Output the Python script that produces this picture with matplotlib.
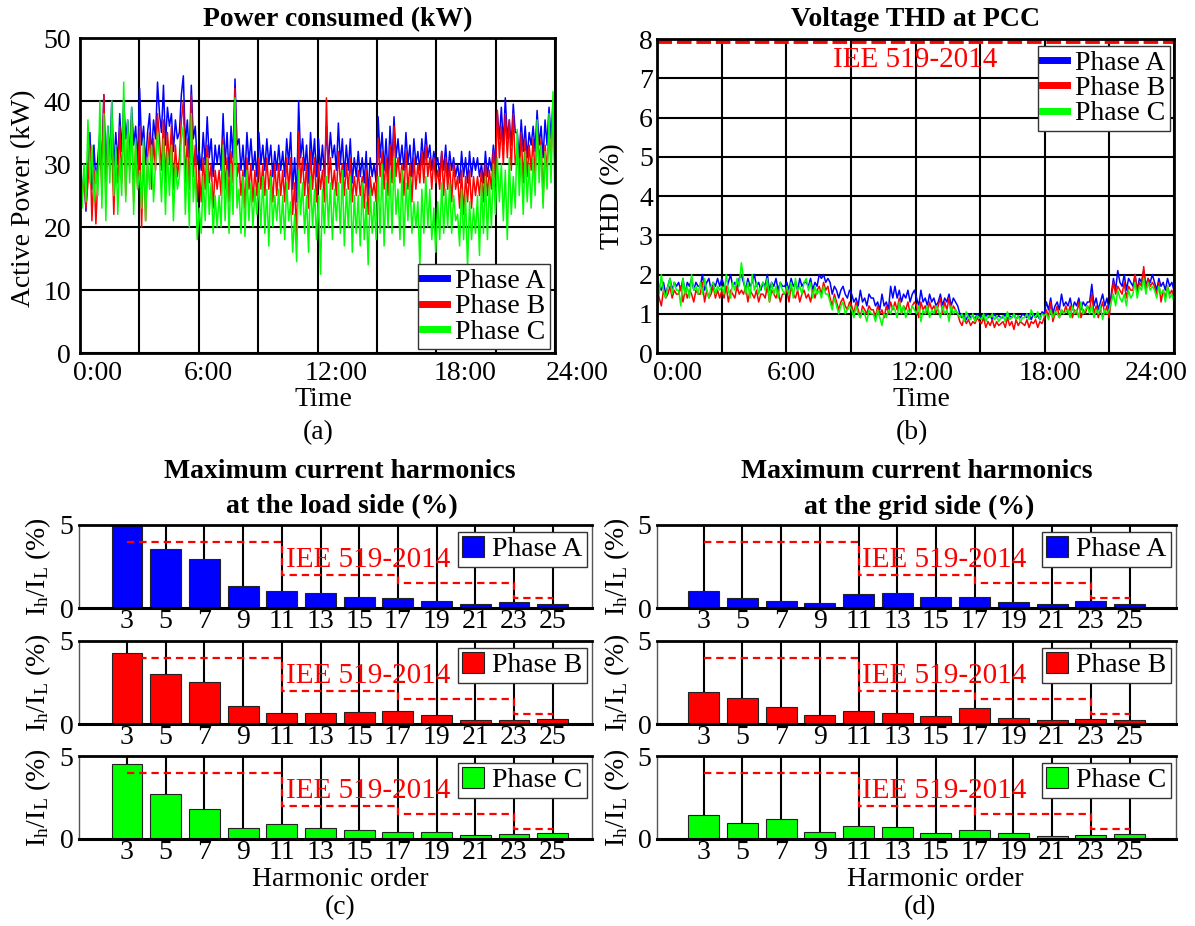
import numpy as np
import matplotlib.pyplot as plt

plt.rcParams['font.family'] = ['Liberation Serif', 'DejaVu Serif']
plt.rcParams['mathtext.fontset'] = 'custom'
plt.rcParams['mathtext.rm'] = 'Liberation Serif'
plt.rcParams['mathtext.it'] = 'Liberation Serif:italic'
plt.rcParams['font.size'] = 20

# ---- data ----
phases = ['Phase A', 'Phase B', 'Phase C']
colors = ['#0000ff', '#ff0000', '#00ff00']

# power consumed (kW), 10 samples per 1/24 of the plotted span
power_a = [31, 24, 29, 22.5, 30, 35, 26, 33, 27, 31,
           35, 30, 41, 28, 36, 31, 40, 29, 35, 30,
           38, 32, 40, 34, 37, 31, 39, 33, 36, 30,
           42, 33, 36, 30, 35, 38, 31, 37, 34, 43,
           38, 35, 42.5, 33, 39, 36, 38, 32, 37, 34,
           35, 41, 44, 33, 37, 31, 42.5, 34, 36, 30,
           32, 29, 35, 30, 37.5, 31, 34, 28, 33, 30,
           33, 29, 38, 30, 35, 28, 36, 31, 43.5, 33,
           34, 29, 33, 28, 35, 30, 34, 29, 32, 28,
           35, 30, 33, 29, 34, 30, 33, 28, 32, 29,
           33, 29, 32, 28, 34, 30, 35, 26, 31, 24,
           40, 31, 34, 29, 33, 27, 35, 30, 34, 28,
           34, 29, 33, 28, 36, 30, 35, 31, 33, 29,
           36.5, 30, 34, 28, 33, 29, 34, 27, 31, 28,
           32, 28, 31, 27, 32, 25, 31, 28, 30, 27,
           37.5, 31, 35, 29, 34, 28, 36, 30, 37.5, 31,
           34, 30, 33, 29, 35, 30, 33, 28, 34, 30,
           32, 29, 34, 30, 35, 31, 33, 29, 32, 30,
           31, 28, 32, 29, 33, 28, 32, 29, 31, 28,
           30, 27, 32, 28, 31, 27, 32, 28, 31, 29,
           31, 28, 30, 27, 32, 28, 31, 29, 33, 30,
           38, 34, 39, 33, 40.5, 34, 37, 33, 39.5, 35,
           35, 31, 37, 32, 36, 31, 35, 33, 36, 32,
           38.5, 33, 36, 31, 37, 33, 39, 34, 40, 31]
power_b = [30, 25, 28, 23, 27, 33, 21, 29, 20.5, 28,
           33, 26, 41, 24, 35, 29, 34, 22, 31, 27,
           36, 27, 38, 25, 35, 29, 37, 24, 33, 26,
           36, 20, 33, 21, 31, 35, 26, 34, 29, 38,
           34, 29, 37, 27, 35, 30, 36, 26, 33, 28,
           31, 37, 40, 27, 34, 26, 41, 28, 33, 24,
           29, 24, 31, 26, 33, 27, 30, 23, 29, 26,
           29, 25, 34, 26, 31, 24, 32, 27, 42, 28,
           30, 25, 29, 23, 31, 26, 30, 24, 29, 25,
           31, 26, 30, 25, 31, 26, 29, 24, 30, 25,
           30, 25, 29, 24, 31, 26, 31, 22, 27, 18,
           35, 27, 31, 25, 30, 23, 32, 26, 31, 24,
           30, 26, 29, 24, 40.5, 27, 31, 26, 29, 25,
           32, 27, 30, 25, 30, 26, 31, 24, 28, 25,
           29, 25, 28, 23, 29, 22, 28, 25, 27, 24,
           34, 28, 32, 26, 31, 25, 33, 27, 36, 28,
           31, 27, 30, 25, 32, 26, 30, 24, 31, 26,
           30, 27, 32, 27, 33, 28, 31, 26, 31, 27,
           29, 26, 32, 25, 31, 26, 30, 24, 30, 26,
           28, 23, 29, 22, 28, 24, 29, 23, 28, 25,
           28, 25, 29, 24, 30, 25, 29, 26, 32, 27,
           38.5, 31, 36, 30, 38, 31, 37, 29, 38, 30,
           32, 28, 35, 27, 34, 28, 33, 29, 34, 28,
           36, 30, 34, 24, 33, 29, 36, 30, 39, 29]
power_c = [26, 23, 30, 24, 37, 27, 33, 24, 29, 25,
           40, 23, 38, 21, 36, 27, 40, 25, 33, 22,
           31, 25, 43, 24, 37, 27, 39, 22, 34, 26,
           29, 23, 34, 21, 31, 26, 33, 24, 30, 35,
           31, 24, 34, 22, 32, 25, 33, 21, 30, 26,
           28, 34, 36, 22, 31, 20, 38, 24, 29, 18,
           23, 19, 28, 21, 31, 22, 27, 19, 25, 20,
           25, 20, 33, 21, 29, 19, 30, 22, 40.5, 23,
           26, 19, 28, 18.5, 29, 21, 27, 20, 26, 22,
           27, 20, 28, 19, 26, 17, 28, 20, 25, 21,
           26, 19, 25, 18, 27, 21, 24, 16, 22, 14.5,
           29, 22, 27, 19, 25, 16, 28, 20, 26, 18,
           25, 12.5, 26, 19, 28, 20, 27, 18, 26, 21,
           27, 19, 29, 17, 26, 20, 28, 16, 25, 19,
           25, 17, 27, 18, 24, 14, 26, 19, 24, 18,
           28, 19, 30, 17, 27, 20, 29, 19, 31, 22,
           26, 18, 29, 17, 27, 21, 28, 19, 24, 20,
           24, 13.5, 26, 19, 28, 20, 26, 18, 23, 16,
           24, 18, 27, 19, 26, 20, 27, 19, 25, 21,
           22, 17, 26, 18, 25, 13.5, 24, 18, 23, 19,
           25, 15.5, 27, 19, 28, 18, 27, 20, 30, 22,
           31, 24, 30, 21, 29, 18, 31, 22, 28, 23,
           35.5, 25, 31, 22, 32, 24, 30, 23, 31, 25,
           37, 27, 33, 23, 32, 26, 38, 27, 41.5, 24]

# voltage THD at PCC (%)
thd_a = [1.9, 1.7, 1.6, 1.8, 1.5, 1.7, 1.9, 1.6, 1.8, 1.7,
         1.8, 1.6, 1.9, 1.5, 1.8, 1.7, 1.9, 1.6, 1.8, 1.7,
         1.7, 2.0, 1.6, 1.8, 1.9, 1.6, 1.8, 1.7, 1.9, 1.7,
         1.9, 1.7, 1.6, 1.8, 2.0, 1.7, 1.8, 1.6, 1.9, 2.0,
         1.8, 1.6, 1.9, 1.7, 1.8, 2.0, 1.7, 1.8, 1.6, 1.8,
         1.7, 2.0, 1.6, 1.8, 1.7, 1.9, 1.6, 1.8, 1.7, 1.7,
         1.8, 1.6, 1.9, 1.7, 1.8, 1.6, 1.9, 1.7, 1.8, 1.8,
         1.7, 1.9, 1.6, 1.8, 1.7, 2.0, 1.9, 2.0, 1.8, 1.9,
         1.8, 1.5, 1.7, 1.6, 1.4, 1.6, 1.7, 1.5, 1.4, 1.6,
         1.5, 1.3, 1.4, 1.2, 1.6, 1.3, 1.4, 1.2, 1.5, 1.4,
         1.4, 1.2, 1.3, 1.1, 1.5, 1.2, 1.3, 1.1, 1.7, 1.4,
         1.7, 1.4, 1.6, 1.3, 1.5, 1.4, 1.6, 1.3, 1.5, 1.6,
         1.4, 1.2, 1.6, 1.3, 1.4, 1.2, 1.5, 1.3, 1.4, 1.2,
         1.3, 1.5, 1.2, 1.4, 1.3, 1.5, 1.2, 1.4, 1.3, 1.2,
         1.0, 0.9, 0.95, 0.85, 1.0, 0.9, 0.95, 0.85, 1.0, 0.9,
         0.95, 0.85, 1.0, 0.9, 0.95, 0.85, 1.0, 0.9, 0.95, 0.9,
         0.9, 1.0, 0.85, 0.95, 0.9, 1.0, 0.85, 0.95, 0.9, 1.0,
         0.95, 0.9, 1.0, 0.85, 1.0, 0.9, 0.95, 0.85, 1.05, 1.0,
         1.3, 1.1, 1.4, 1.0, 1.2, 1.3, 1.1, 1.5, 1.2, 1.3,
         1.2, 1.4, 1.1, 1.3, 1.2, 1.4, 1.1, 1.3, 1.2, 1.3,
         1.3, 1.75, 1.2, 1.4, 1.1, 1.3, 1.5, 1.2, 1.4, 1.1,
         1.5, 1.9, 1.6, 2.1, 1.8, 1.7, 2.0, 1.6, 1.9, 1.8,
         1.7, 2.0, 1.6, 1.9, 1.8, 2.1, 1.7, 1.9, 1.8, 2.0,
         1.8, 1.6, 1.9, 1.7, 1.8, 1.6, 1.9, 1.7, 1.8, 1.6]
thd_b = [1.7, 1.4, 1.2, 1.6, 1.4, 1.5, 1.7, 1.4, 1.6, 1.5,
         1.5, 1.7, 1.3, 1.6, 1.4, 1.6, 1.5, 1.3, 1.6, 1.5,
         1.5, 1.8, 1.3, 1.6, 1.4, 1.5, 1.7, 1.4, 1.6, 1.4,
         1.6, 1.4, 1.7, 1.3, 1.6, 1.5, 1.4, 1.7, 1.5, 1.6,
         1.5, 1.7, 1.3, 1.6, 1.5, 1.4, 1.6, 1.3, 1.5, 1.5,
         1.4, 1.7, 1.3, 1.6, 1.5, 1.4, 1.6, 1.3, 1.5, 1.5,
         1.6, 1.3, 1.7, 1.5, 1.4, 1.6, 1.3, 1.5, 1.6, 1.4,
         1.5, 1.3, 1.6, 1.4, 1.6, 1.7, 1.5, 1.8, 1.6, 1.7,
         1.4, 1.2, 1.5, 1.3, 1.1, 1.3, 1.4, 1.2, 1.1, 1.3,
         1.2, 1.0, 1.3, 1.1, 0.9, 1.2, 1.1, 1.0, 1.2, 1.1,
         1.1, 0.9, 1.2, 1.0, 1.1, 0.9, 1.2, 1.0, 1.3, 1.1,
         1.3, 1.1, 1.4, 1.0, 1.2, 1.1, 1.3, 1.0, 1.2, 1.3,
         1.2, 0.9, 1.3, 1.1, 1.2, 1.0, 1.3, 1.1, 1.2, 1.0,
         1.2, 1.4, 1.0, 1.3, 1.1, 1.4, 1.0, 1.2, 1.1, 1.0,
         0.8, 0.7, 0.9, 0.75, 0.85, 0.7, 0.8, 0.75, 0.9, 0.8,
         0.75, 0.9, 0.65, 0.8, 0.7, 0.85, 0.65, 0.8, 0.7, 0.75,
         0.8, 0.65, 0.9, 0.7, 0.8, 0.6, 0.85, 0.7, 0.8, 0.75,
         0.7, 0.85, 0.65, 0.8, 0.75, 0.85, 0.65, 0.8, 0.75, 0.9,
         1.1, 0.9, 1.3, 0.8, 1.0, 1.2, 0.9, 1.1, 1.0, 1.2,
         1.0, 1.2, 0.9, 1.1, 1.0, 1.3, 0.9, 1.1, 1.0, 1.2,
         1.1, 1.5, 1.0, 1.2, 0.9, 1.1, 1.3, 1.0, 1.2, 0.9,
         1.4, 1.8, 1.5, 1.7, 1.6, 1.5, 1.8, 1.4, 1.7, 1.6,
         1.6, 2.0, 1.5, 1.8, 1.7, 2.2, 1.6, 1.9, 1.7, 1.8,
         1.7, 1.5, 1.8, 1.3, 1.6, 1.4, 1.7, 1.5, 1.6, 1.4]
thd_c = [1.8, 1.5, 2.0, 1.6, 1.4, 1.7, 1.9, 1.5, 1.8, 1.6,
         1.6, 1.2, 1.9, 1.5, 1.7, 1.4, 2.0, 1.6, 1.7, 1.5,
         1.8, 1.5, 1.9, 1.6, 1.4, 1.7, 1.8, 1.5, 1.7, 1.6,
         1.7, 1.5, 2.0, 1.6, 1.4, 1.8, 1.6, 1.9, 1.7, 2.3,
         1.9, 1.5, 1.8, 1.4, 2.0, 1.6, 1.8, 1.5, 1.7, 1.8,
         1.6, 1.9, 1.3, 1.8, 1.5, 1.7, 1.4, 1.8, 1.6, 1.5,
         1.7, 1.5, 1.8, 1.4, 1.9, 1.6, 1.7, 1.5, 1.8, 1.9,
         1.6, 1.8, 1.4, 1.7, 1.5, 1.6, 1.4, 1.7, 1.5, 1.5,
         1.3, 1.1, 1.4, 1.2, 1.0, 1.2, 1.3, 1.0, 1.1, 1.2,
         1.1, 0.9, 1.2, 1.0, 0.9, 1.1, 1.0, 0.8, 1.1, 1.0,
         1.0, 0.8, 1.1, 0.9, 0.7, 1.0, 0.9, 1.1, 1.0, 1.2,
         1.1, 0.9, 1.3, 1.0, 1.2, 0.9, 1.1, 1.0, 1.2, 1.1,
         1.0, 1.2, 0.8, 1.1, 1.0, 1.2, 0.9, 1.1, 1.0, 1.2,
         1.1, 0.9, 1.2, 1.0, 1.1, 0.8, 1.2, 1.0, 1.1, 1.0,
         0.9, 1.0, 0.8, 1.05, 0.9, 0.85, 1.0, 0.8, 0.95, 0.9,
         0.85, 1.0, 0.8, 0.95, 0.9, 1.0, 0.85, 0.95, 0.8, 0.9,
         0.95, 0.8, 1.05, 0.85, 0.9, 1.0, 0.85, 0.95, 0.8, 0.9,
         0.9, 1.0, 0.85, 1.1, 0.95, 0.9, 1.05, 0.85, 1.0, 0.95,
         1.0, 0.85, 1.1, 0.9, 1.05, 1.0, 0.9, 1.1, 1.0, 1.05,
         1.1, 0.9, 1.2, 1.0, 1.1, 0.9, 1.3, 1.0, 1.1, 1.2,
         1.0, 1.2, 0.9, 1.1, 1.0, 1.2, 0.85, 1.1, 1.0, 1.1,
         1.3, 1.5, 1.2, 1.6, 1.4, 1.3, 1.5, 1.2, 1.6, 1.4,
         1.5, 1.8, 1.4, 1.7, 1.6, 1.9, 1.5, 1.8, 1.6, 1.7,
         1.6, 1.4, 1.7, 1.5, 1.6, 1.3, 1.7, 1.4, 1.5, 1.3]
thd_limit = 8.0

time_labels = ['0:00', '6:00', '12:00', '18:00', '24:00']

# harmonics (%)
orders = [3, 5, 7, 9, 11, 13, 15, 17, 19, 21, 23, 25]
load_a = [5.1, 3.53, 2.98, 1.31, 1.03, 0.89, 0.69, 0.63, 0.40, 0.22, 0.38, 0.24]
load_b = [4.28, 3.01, 2.55, 1.10, 0.64, 0.68, 0.74, 0.80, 0.54, 0.22, 0.26, 0.30]
load_c = [4.52, 2.69, 1.83, 0.64, 0.92, 0.68, 0.56, 0.40, 0.40, 0.24, 0.28, 0.34]
grid_a = [1.01, 0.58, 0.44, 0.32, 0.87, 0.89, 0.67, 0.69, 0.38, 0.22, 0.42, 0.24]
grid_b = [1.95, 1.59, 1.04, 0.52, 0.78, 0.66, 0.50, 0.98, 0.38, 0.22, 0.28, 0.26]
grid_c = [1.43, 0.98, 1.18, 0.44, 0.76, 0.74, 0.38, 0.56, 0.38, 0.20, 0.22, 0.32]

# IEEE 519-2014 current limits
limit_edges = [3, 11, 17, 23, 25]
limit_values = [4.0, 2.0, 1.5, 0.6]

W, H = 1195, 926
fig = plt.figure(figsize=(W / 100, H / 100), dpi=100)


def box(l, t, r, b):
    return [l / W, 1 - b / H, (r - l) / W, (b - t) / H]


def put(x, y, s, **kw):
    fig.text(x / W, 1 - y / H, s, ha='center', va='center', **kw)


def legend(ax, anchor, loc, patches=False):
    kw = dict(loc=loc, bbox_to_anchor=anchor, borderaxespad=0, fancybox=False,
              framealpha=1, edgecolor='#333333', borderpad=0.15,
              labelspacing=0.0, handletextpad=0.3, fontsize=20)
    if patches:
        kw.update(handlelength=0.8, handleheight=0.8)
    else:
        kw.update(handlelength=0.9)
    leg = ax.legend(**kw)
    leg.get_frame().set_linewidth(1)
    return leg


# ---- (a) power ----
ax = fig.add_axes(box(80, 38, 555, 353))
t = np.linspace(0, 24, len(power_a))
for y, c, lab in zip([power_a, power_b, power_c], colors, phases):
    ax.plot(t, y, color=c, lw=1.1, label=lab)
ax.set_xlim(0, 24)
ax.set_ylim(0, 50)
ax.set_xticks(np.arange(0, 25, 3))
ax.set_xticklabels([])
ax.set_yticks(range(0, 51, 10))
ax.tick_params(length=0, pad=6.5)
ax.grid(True, color='k', lw=1.5)
for s in ax.spines.values():
    s.set_linewidth(2)
leg = legend(ax, (0.989, 0.013), 'lower right')
for h in leg.legend_handles:
    h.set_linewidth(5)
for x, lab in zip([98, 208, 336, 465, 577], time_labels):
    put(x, 373, lab)
put(338, 20, 'Power consumed (kW)', weight='bold')
put(24, 198, 'Active Power (kW)', rotation=90)
put(323, 399, 'Time')
put(318, 433, '(a)')

# ---- (b) THD ----
ax = fig.add_axes(box(657, 39, 1174, 353))
t = np.linspace(0, 24, len(thd_a))
for y, c, lab in zip([thd_a, thd_b, thd_c], colors, phases):
    ax.plot(t, y, color=c, lw=1.1, label=lab)
ax.axhline(thd_limit - 0.05, color='r', lw=3.5, ls=(0, (3, 1)))
ax.text(12, 7.47, 'IEE 519-2014', color='r', ha='center', va='center', fontsize=21)
ax.set_xlim(0, 24)
ax.set_ylim(0, 8)
ax.set_xticks(np.arange(0, 25, 3))
ax.set_xticklabels([])
ax.set_yticks(range(0, 9))
ax.tick_params(length=0, pad=3)
ax.grid(True, color='k', lw=1.5)
for s in ax.spines.values():
    s.set_linewidth(2)
leg = legend(ax, (0.992, 0.978), 'upper right')
for h in leg.legend_handles:
    h.set_linewidth(5)
for x, lab in zip([677, 791, 922, 1050, 1156], time_labels):
    put(x, 373, lab)
put(916, 20, 'Voltage THD at PCC', weight='bold')
put(613, 196, 'THD (%)', rotation=90)
put(921, 399, 'Time')
put(912, 433, '(b)')

# ---- (c), (d) harmonics ----
rows = [(525, 608), (641, 724), (756, 839)]
ylab = r'I$_\mathrm{h}$/I$_\mathrm{L}$ (%)'


def harm_panel(left, right, xlim, series, ylab_x):
    for (top, bot), vals, c, lab in zip(rows, series, colors, phases):
        ax = fig.add_axes(box(left, top, right, bot))
        ax.bar(orders, vals, width=1.6, color=c, edgecolor='#222222', lw=0.8,
               label=lab, zorder=2)
        ax.stairs(limit_values, limit_edges, baseline=None, color='r',
                  lw=1.6, ls=(0, (3.3, 2.2)), zorder=3)
        ax.text(11.2, 2.9, 'IEE 519-2014', color='r', va='center', ha='left',
                fontsize=21, zorder=4)
        ax.set_xlim(*xlim)
        ax.set_ylim(0, 5)
        ax.set_xticks(orders)
        ax.set_yticks([0, 5])
        ax.tick_params(length=0, pad=1)
        ax.tick_params(axis='y', pad=4)
        ax.grid(axis='x', color='k', lw=1.5, zorder=0)
        ax.set_axisbelow(True)
        ax.spines['top'].set_linewidth(2)
        ax.spines['bottom'].set_linewidth(2.2)
        for side in ['left', 'right']:
            ax.spines[side].set_linewidth(1)
            ax.spines[side].set_color('#555555')
        legend(ax, (0.99, 0.915), 'upper right', patches=True)
        put(ylab_x, (top + bot) / 2, ylab, rotation=90)


harm_panel(79, 592, (0.52, 27.03), [load_a, load_b, load_c], 38)
harm_panel(657, 1176, (0.59, 27.4), [grid_a, grid_b, grid_c], 617)

put(340, 472, 'Maximum current harmonics', weight='bold')
put(342, 507, 'at the load side (%)', weight='bold')
put(917, 472, 'Maximum current harmonics', weight='bold')
put(919, 507, 'at the grid side (%)', weight='bold')
put(340, 880, 'Harmonic order')
put(935, 880, 'Harmonic order')
put(340, 908, '(c)')
put(920, 908, '(d)')

fig.savefig('out.png', dpi=100)
